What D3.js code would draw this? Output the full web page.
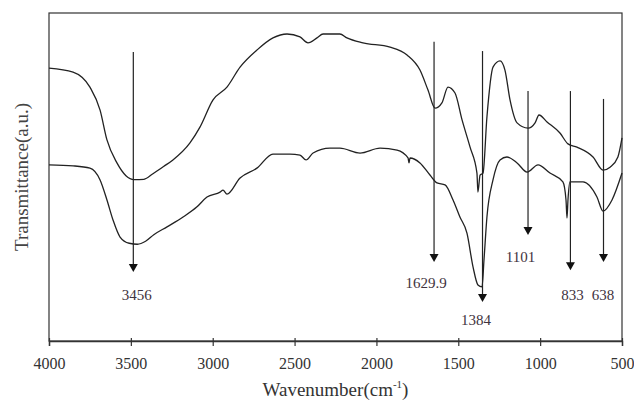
<!DOCTYPE html>
<html>
<head>
<meta charset="utf-8">
<script src="https://cdn.jsdelivr.net/npm/d3@7"></script>
<style>
  html, body { margin: 0; padding: 0; background: #fff; }
  #chart { width: 634px; height: 406px; }
  text { font-family: "Liberation Serif", "Times New Roman", serif; }
</style>
</head>
<body>
<div id="chart"></div>
<script>
/* ---------- Data ---------- */
// upper spectrum: [wavenumber, transmittance a.u.]
const upperSpectrum = [
  [4000, 83.2], [3853, 82.0], [3750, 77.4], [3688, 70.4], [3646, 61.3], [3585, 54.3],
  [3530, 50.4], [3480, 49.2], [3420, 49.3], [3365, 51.0], [3300, 53.2], [3243, 55.2],
  [3139, 60.4], [3078, 65.2], [2998, 73.5], [2913, 77.4], [2833, 83.5], [2730, 88.7],
  [2632, 92.4], [2546, 93.6], [2467, 92.7], [2418, 90.9], [2363, 92.4], [2326, 93.6],
  [2223, 93.6], [2180, 92.4], [2082, 90.9], [1917, 89.6], [1813, 87.2], [1734, 82.6],
  [1685, 76.5], [1642, 71.0], [1600, 72.6], [1563, 77.4], [1520, 75.6], [1477, 67.4],
  [1428, 59.1], [1386, 51.2], [1380, 45.4], [1367, 50.6], [1349, 51.2], [1325, 68.3],
  [1288, 83.5], [1245, 85.4], [1215, 82.6], [1184, 73.5], [1141, 66.5], [1074, 64.9],
  [1031, 66.5], [1007, 68.9], [958, 66.8], [879, 63.4], [830, 60.1], [775, 59.1],
  [677, 56.1], [616, 52.1], [573, 53.0], [525, 56.1], [500, 61.9]
];

// lower spectrum
const lowerSpectrum = [
  [4000, 53.7], [3853, 53.4], [3750, 52.7], [3688, 49.1], [3646, 43.0], [3609, 36.9],
  [3566, 31.7], [3510, 29.8], [3460, 29.5], [3410, 30.4], [3360, 32.4], [3279, 34.8],
  [3181, 37.8], [3096, 40.9], [3035, 43.9], [2955, 45.4], [2937, 46.0], [2913, 44.8],
  [2833, 49.7], [2730, 52.7], [2632, 57.0], [2528, 57.0], [2467, 56.7], [2430, 55.2],
  [2387, 57.3], [2284, 58.8], [2223, 58.8], [2100, 57.3], [1978, 58.8], [1874, 58.2],
  [1807, 55.8], [1801, 54.3], [1795, 55.8], [1734, 54.3], [1673, 50.6], [1630, 48.2],
  [1581, 47.6], [1532, 43.0], [1490, 37.8], [1447, 32.9], [1410, 22.6], [1380, 17.1],
  [1355, 16.5], [1343, 24.7], [1325, 37.8], [1288, 49.1], [1245, 55.2], [1203, 56.1],
  [1141, 54.3], [1080, 51.5], [1013, 53.7], [940, 51.2], [861, 48.5], [842, 43.0],
  [836, 37.5], [830, 43.0], [818, 48.5], [738, 48.5], [653, 43.9], [616, 39.6],
  [561, 43.0], [500, 51.2]
];

const xTicks = [4000, 3500, 3000, 2500, 2000, 1500, 1000, 500];

// peak annotations: arrow at wn from top value down to tip value; label placed at (lx, ly)
const peakLabels = ["3456", "1629.9", "1384", "1101", "833", "638"];
const peakArrowWn = [3485, 1648, 1352, 1074, 815, 613];
const peakArrowTop = [88.1, 91.2, 88.4, 76.2, 76.2, 73.8];
const peakArrowTip = [21.0, 24.1, 11.9, 32.3, 21.6, 24.1];
const peakLabelWn = [3464, 1697, 1392, 1120, 802, 616];
const peakLabelVal = [14.0, 17.7, 6.4, 25.6, 14.0, 14.0];

/* ---------- Chart ---------- */
const width = 634, height = 406;
const margin = { top: 13, right: 12, bottom: 65, left: 49 };

const svg = d3.select("#chart").append("svg")
  .attr("width", width)
  .attr("height", height);

const x = d3.scaleLinear()
  .domain([4000, 500])
  .range([margin.left, width - margin.right]);

const y = d3.scaleLinear()
  .domain([0, 100])
  .range([height - margin.bottom, margin.top]);

// Frame
svg.append("rect")
  .attr("x", x(4000))
  .attr("y", y(100))
  .attr("width", x(500) - x(4000))
  .attr("height", y(0) - y(100))
  .attr("fill", "none")
  .attr("stroke", "#333")
  .attr("stroke-width", 1.2);

// X axis
const xAxis = svg.append("g")
  .attr("transform", `translate(0,${y(0)})`)
  .call(d3.axisBottom(x).tickValues(xTicks).tickSize(5).tickPadding(12).tickFormat(d3.format("d")));
xAxis.select(".domain").attr("stroke", "#333").attr("stroke-width", 1.4);
xAxis.selectAll(".tick line").attr("y1", -3).attr("stroke", "#333").attr("stroke-width", 1.2);
xAxis.selectAll(".tick text")
  .style("font-family", "'Liberation Serif', serif")
  .style("font-size", "16px")
  .attr("fill", "#333");

// Axis titles
const xTitle = svg.append("text")
  .attr("x", (x(4000) + x(500)) / 2)
  .attr("y", 396)
  .attr("text-anchor", "middle")
  .style("font-size", "19px")
  .attr("fill", "#333")
  .text("Wavenumber(cm");
xTitle.append("tspan").attr("dy", -8).style("font-size", "11px").text("-1");
xTitle.append("tspan").attr("dy", 8).text(")");

svg.append("text")
  .attr("transform", `translate(21,${(y(0) + y(100)) / 2}) rotate(-90)`)
  .attr("text-anchor", "middle")
  .attr("dy", "0.35em")
  .style("font-size", "19px")
  .attr("fill", "#444")
  .text("Transmittance(a.u.)");

// Spectra
const line = d3.line()
  .x(d => x(d[0]))
  .y(d => y(d[1]))
  .curve(d3.curveMonotoneX);

[upperSpectrum, lowerSpectrum].forEach(series => {
  svg.append("path")
    .datum(series)
    .attr("fill", "none")
    .attr("stroke", "#222")
    .attr("stroke-width", 1.3)
    .attr("d", line);
});

// Peak arrows
const headH = 8, headW = 4.5;
peakLabels.forEach((label, i) => {
  const ax = x(peakArrowWn[i]);
  const yTop = y(peakArrowTop[i]);
  const yTip = y(peakArrowTip[i]);

  svg.append("line")
    .attr("x1", ax).attr("x2", ax)
    .attr("y1", yTop).attr("y2", yTip - headH + 1)
    .attr("stroke", "#222")
    .attr("stroke-width", 1.2);

  svg.append("path")
    .attr("d", `M${ax - headW},${yTip - headH}L${ax + headW},${yTip - headH}L${ax},${yTip}Z`)
    .attr("fill", "#111");

  svg.append("text")
    .attr("x", x(peakLabelWn[i]))
    .attr("y", y(peakLabelVal[i]))
    .attr("dy", "0.35em")
    .attr("text-anchor", "middle")
    .style("font-size", "15px")
    .attr("fill", "#3f3340")
    .text(label);
});
</script>
</body>
</html>
